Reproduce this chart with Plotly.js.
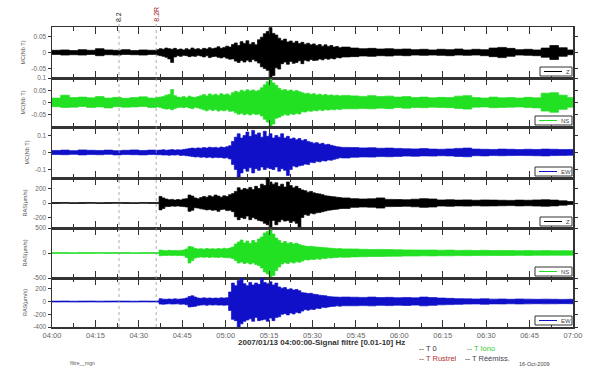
<!DOCTYPE html>
<html><head><meta charset="utf-8">
<script src="https://cdn.plot.ly/plotly-3.0.1.min.js"></script>
<style>html,body{margin:0;padding:0;background:#fff}#c{width:600px;height:378px}</style>
</head><body><div id="c"></div>
<script>
// time grid, minutes after 2007/01/13 04:00:00
const minutes = [0,3,6,9,12,15,18,21,24,27,30,33,36,
37,38,39,40,41,42,43,44,45,46,47,48,49,50,51,52,53,54,55,56,57,58,59,60,61,62,63,64,65,66,67,68,
69,70,71,72,73,74,75,76,77,78,79,80,81,82,83,84,85,86,87,88,89,90,91,92,93,94,95,96,97,98,99,100,
103,106,109,112,115,118,121,124,127,130,133,136,139,142,145,148,151,154,157,160,163,166,169,172,175,178,180];

const componentNames = ["Z","NS","EW","Z","NS","EW"];
const yTitles = ["MC(Nb T)","MC(Nb T)","MC(Nb T)","RAS(μm/s)","RAS(μm/s)","RAS(μm/s)"];
const tickVals = [[-0.05,0,0.05],[-0.05,0,0.05,0.1],[-0.1,0,0.1],[-200,0,200],[-500,0,500],[-400,-200,0,200]];
const tickTexts = [["-0.05","0","0.05"],["-0.05","0","0.05","0.1"],["-0.1","0","0.1"],["-200","0","200"],["-500","0","500"],["-400","-200","0","200"]];
const eventTimes = ["2007-01-13 04:23:10","2007-01-13 04:36:00"];
const eventLabels = ["8.2","8.2R"];
const timeLegend = ["T 0","T Iono","T Rustrel","T Réémiss."];

// envelopes (upper / lower)
const zMcUp = [.007,.008,.006,.009,.007,.012,.008,.007,.009,.006,.008,.007,.009,
.012,.010,.014,.012,.010,.013,.009,.011,.008,.012,.009,.014,.010,.012,.009,.013,.011,.015,.012,.014,.018,.013,.016,.020,.017,.025,.030,.022,
.034,.028,.037,.026,.031,.024,.040,.048,.059,.066,.078,.060,.055,.045,.038,.042,.033,.036,.030,.035,.028,.032,.026,.029,.024,.027,.022,.025,.020,.024,.019,.022,.017,.019,.015,.017,
.014,.012,.013,.011,.012,.010,.011,.009,.010,.008,.010,.009,.011,.008,.010,.009,.014,.016,.013,.009,.010,.008,.014,.022,.015,.008,.007];
const zMcLo = [-.006,-.008,-.007,-.008,-.006,-.010,-.007,-.008,-.006,-.007,-.008,-.006,-.008,
-.010,-.012,-.015,-.020,-.031,-.014,-.010,-.012,-.009,-.010,-.013,-.011,-.012,-.009,-.011,-.014,-.010,-.016,-.013,-.012,-.015,-.017,-.014,-.018,-.021,-.020,-.027,-.031,
-.025,-.030,-.024,-.029,-.022,-.027,-.033,-.045,-.050,-.056,-.080,-.072,-.048,-.052,-.035,-.030,-.037,-.028,-.034,-.031,-.026,-.035,-.024,-.027,-.022,-.025,-.024,-.020,-.023,-.019,-.021,-.018,-.020,-.016,-.017,-.014,
-.013,-.011,-.012,-.010,-.011,-.009,-.010,-.008,-.009,-.008,-.009,-.010,-.008,-.009,-.008,-.010,-.013,-.016,-.012,-.008,-.009,-.010,-.015,-.022,-.012,-.007,-.006];

const nsMcUp = [.018,.030,.020,.022,.019,.024,.018,.021,.017,.020,.023,.018,.021,
.022,.025,.030,.033,.053,.028,.022,.020,.024,.019,.026,.022,.020,.024,.028,.033,.027,.035,.030,.034,.029,.036,.031,.035,.030,.040,.046,.042,
.050,.045,.052,.047,.051,.046,.050,.060,.072,.085,.094,.080,.070,.058,.050,.053,.047,.051,.045,.049,.044,.040,.036,.038,.033,.036,.031,.034,.030,.033,.029,.031,.028,.030,.027,.029,
.027,.025,.028,.024,.026,.022,.024,.020,.022,.019,.021,.020,.026,.028,.020,.018,.022,.019,.020,.018,.021,.019,.038,.040,.030,.020,.018];
const nsMcLo = [-.017,-.020,-.019,-.016,-.020,-.018,-.022,-.017,-.019,-.018,-.016,-.020,-.018,
-.020,-.024,-.027,-.025,-.030,-.024,-.020,-.019,-.021,-.018,-.022,-.025,-.019,-.022,-.026,-.030,-.034,-.028,-.033,-.029,-.035,-.031,-.034,-.030,-.036,-.035,-.042,-.048,
-.044,-.050,-.046,-.051,-.045,-.049,-.047,-.055,-.068,-.080,-.100,-.088,-.064,-.060,-.054,-.048,-.052,-.046,-.049,-.044,-.047,-.038,-.039,-.034,-.036,-.032,-.034,-.030,-.033,-.029,-.031,-.028,-.030,-.027,-.029,-.026,
-.026,-.024,-.026,-.023,-.025,-.021,-.023,-.020,-.021,-.019,-.020,-.021,-.024,-.027,-.019,-.018,-.021,-.020,-.019,-.018,-.020,-.022,-.035,-.040,-.028,-.019,-.017];

const ewMcUp = [.012,.014,.011,.015,.013,.012,.014,.011,.013,.015,.012,.014,.013,
.014,.016,.013,.015,.017,.014,.016,.015,.018,.020,.023,.026,.024,.027,.025,.029,.026,.031,.028,.030,.027,.032,.029,.034,.040,.065,.090,.110,
.085,.100,.120,.095,.130,.105,.115,.090,.125,.095,.110,.085,.100,.090,.110,.085,.095,.080,.085,.075,.082,.070,.076,.065,.060,.055,.058,.050,.054,.046,.048,.042,.038,.034,.032,.030,
.029,.027,.028,.025,.026,.024,.022,.021,.023,.020,.019,.021,.024,.026,.020,.019,.018,.020,.019,.017,.019,.018,.020,.019,.017,.018,.016];
const ewMcLo = [-.012,-.013,-.011,-.014,-.012,-.013,-.011,-.014,-.012,-.013,-.014,-.012,-.013,
-.013,-.015,-.014,-.016,-.014,-.015,-.013,-.017,-.016,-.019,-.021,-.024,-.026,-.025,-.028,-.026,-.030,-.027,-.031,-.028,-.030,-.029,-.033,-.031,-.038,-.070,-.100,-.145,
-.120,-.095,-.110,-.090,-.120,-.095,-.105,-.085,-.100,-.090,-.095,-.100,-.085,-.110,-.095,-.105,-.135,-.100,-.080,-.085,-.078,-.075,-.068,-.070,-.058,-.060,-.052,-.055,-.048,-.050,-.044,-.045,-.040,-.036,-.031,-.032,
-.028,-.026,-.027,-.024,-.025,-.023,-.021,-.022,-.020,-.021,-.019,-.020,-.023,-.025,-.019,-.020,-.018,-.019,-.018,-.017,-.018,-.019,-.020,-.018,-.017,-.016,-.015];

const zRasUp = [6,7,5,6,7,5,6,7,6,5,7,6,8,
90,70,55,45,50,40,48,42,55,60,110,95,70,60,75,90,80,100,85,110,95,80,100,90,115,130,160,210,
180,200,190,215,185,230,200,260,240,345,290,260,280,230,260,220,290,240,210,230,200,180,170,150,160,140,130,125,115,100,95,90,85,80,75,70,
60,55,58,70,50,48,45,52,60,55,42,45,40,43,38,42,40,38,36,40,38,42,45,40,30,20,15];
const zRasLo = [-6,-5,-7,-6,-5,-7,-6,-5,-6,-7,-5,-6,-8,
-95,-75,-50,-48,-42,-45,-40,-46,-50,-55,-115,-100,-65,-70,-80,-85,-95,-90,-100,-95,-115,-90,-85,-105,-100,-120,-190,-230,
-200,-215,-180,-230,-200,-220,-240,-250,-280,-300,-345,-240,-300,-260,-230,-250,-240,-270,-250,-280,-345,-200,-160,-170,-140,-150,-135,-130,-120,-110,-100,-95,-90,-85,-78,-75,
-60,-55,-58,-70,-50,-48,-45,-52,-60,-55,-42,-45,-40,-43,-38,-42,-40,-38,-36,-40,-38,-42,-45,-40,-30,-20,-15];

const nsRasUp = [8,10,7,9,8,10,9,8,10,7,9,8,10,
60,50,45,55,48,50,45,52,60,80,130,120,90,80,85,75,90,80,85,78,90,82,95,85,100,120,180,220,
260,200,240,190,250,210,280,320,400,430,460,380,300,250,200,230,190,210,180,195,170,150,140,130,135,125,120,115,110,105,100,95,90,85,88,82,
80,75,70,72,68,65,62,60,58,60,55,58,52,55,50,54,48,52,50,47,50,46,48,45,47,44,42];
const nsRasLo = [-8,-9,-10,-8,-9,-7,-10,-8,-9,-10,-8,-9,-10,
-55,-48,-50,-45,-52,-46,-50,-48,-55,-90,-200,-150,-100,-85,-80,-85,-80,-90,-78,-85,-88,-80,-90,-95,-95,-110,-150,-200,
-180,-210,-190,-220,-200,-230,-250,-300,-380,-420,-500,-450,-350,-280,-220,-190,-210,-180,-200,-175,-185,-160,-135,-140,-125,-130,-115,-125,-105,-110,-95,-100,-88,-90,-82,-85,
-78,-74,-70,-70,-66,-64,-60,-60,-56,-58,-54,-56,-52,-53,-50,-52,-48,-50,-48,-46,-48,-45,-46,-44,-45,-43,-40];

const ewRasUp = [7,8,6,7,8,6,7,8,7,6,8,7,9,
45,38,35,40,36,42,38,40,45,55,80,90,70,55,50,58,52,56,50,55,52,58,54,60,150,290,250,330,
370,280,250,300,260,290,270,370,300,280,310,260,290,230,210,220,190,200,180,190,170,140,135,125,130,115,110,100,95,90,80,75,72,70,68,70,
68,65,70,62,66,60,64,58,70,62,55,50,45,42,40,44,38,40,36,40,38,35,38,36,34,36,32];
const ewRasLo = [-7,-6,-8,-7,-6,-8,-7,-6,-7,-8,-6,-7,-9,
-40,-42,-38,-35,-40,-38,-36,-42,-40,-50,-85,-80,-75,-60,-55,-52,-58,-50,-55,-52,-56,-54,-58,-55,-140,-280,-300,-400,
-350,-310,-290,-270,-310,-250,-300,-290,-280,-310,-260,-300,-250,-240,-200,-190,-210,-180,-195,-170,-180,-150,-125,-135,-120,-125,-105,-110,-90,-95,-85,-78,-75,-68,-72,-66,
-66,-64,-68,-60,-64,-58,-62,-56,-68,-60,-52,-48,-44,-40,-38,-42,-37,-38,-35,-38,-36,-34,-36,-35,-33,-34,-30];

const uppers = [zMcUp, nsMcUp, ewMcUp, zRasUp, nsRasUp, ewRasUp];
const lowers = [zMcLo, nsMcLo, ewMcLo, zRasLo, nsRasLo, ewRasLo];
const colors = ["#000000","#22e022","#1010c8","#000000","#22e022","#1010c8"];
const yRanges = [[-0.08,0.08],[-0.1,0.1],[-0.15,0.15],[-345,345],[-500,500],[-400,370]];

function toDate(m){
  const h = 4 + Math.floor(m/60), mm = m % 60;
  return "2007-01-13 " + String(h).padStart(2,"0") + ":" + String(mm).padStart(2,"0") + ":00";
}
const xs = minutes.map(toDate);

// pixel helpers for layout (plot area 52..573 x 27..327)
const L = 52, R = 573, T = 27, B = 327;
const px = x => (x - L) / (R - L);
const py = y => (B - y) / (B - T);
const bounds = [27,78,127,178,228,278,327];

const data = [];
const layout = {
  width: 600, height: 378,
  margin: {l: L, r: 600 - R, t: T, b: 378 - B},
  paper_bgcolor: "#fff", plot_bgcolor: "#fff",
  font: {family: "Liberation Sans, Arial, sans-serif", size: 7, color: "#555"},
  showlegend: false,
  shapes: [], annotations: []
};

for (let i = 0; i < 6; i++) {
  const n = i + 1;
  const xa = "x" + n, ya = "y" + n;
  data.push({x: xs, y: uppers[i], xaxis: xa, yaxis: ya, type: "scatter", mode: "lines",
    line: {color: colors[i], width: 0.7, shape: "hv"}, name: componentNames[i], hoverinfo: "skip"});
  data.push({x: xs, y: lowers[i], xaxis: xa, yaxis: ya, type: "scatter", mode: "lines",
    line: {color: colors[i], width: 0.7, shape: "hv"}, fill: "tonexty", fillcolor: colors[i],
    hoverinfo: "skip"});
  const dom = [py(bounds[i+1]), py(bounds[i])];
  layout["xaxis" + n] = {
    type: "date", anchor: ya, range: ["2007-01-13 04:00:00","2007-01-13 07:00:00"],
    matches: n === 6 ? undefined : "x6",
    tick0: "2007-01-13 04:00:00", dtick: 900000, tickformat: "%H:%M",
    ticks: "inside", ticklen: 7, tickwidth: 1, tickcolor: "#333",
    minor: {dtick: 450000, ticks: "inside", ticklen: 4, tickcolor: "#333", showgrid: false},
    showline: true, linecolor: "#333", linewidth: 1.5, mirror: "ticks",
    showgrid: false, zeroline: false, showticklabels: n === 6,
    ticklabelstandoff: 0,
    tickfont: {size: 7.5, color: "#666"}
  };
  layout["yaxis" + n] = {
    domain: dom, anchor: xa, range: yRanges[i],
    tickmode: "array", tickvals: tickVals[i], ticktext: tickTexts[i],
    ticks: "outside", ticklen: 3, tickcolor: "#333",
    showline: true, linecolor: "#333", linewidth: 1.5, mirror: "ticks",
    showgrid: false, zeroline: false,
    tickfont: {size: 6.5, color: "#666"},
    title: {text: yTitles[i], font: {size: 5.5, color: "#555"}, standoff: 5}
  };
  // per-panel legend box drawn from the component name
  const name = componentNames[i];
  const bb = bounds[i+1] - 2, bt = bb - 9;
  const bl = name.length > 1 ? 535 : 540;
  layout.shapes.push({type: "rect", xref: "paper", yref: "paper", x0: px(bl), x1: px(572), y0: py(bb), y1: py(bt),
    line: {color: "#333", width: 1}, fillcolor: "#fff", layer: "above"});
  layout.shapes.push({type: "line", xref: "paper", yref: "paper", x0: px(bl + 4), x1: px(bl + 22), y0: py(bb - 4.5), y1: py(bb - 4.5),
    line: {color: colors[i], width: 1}, layer: "above"});
  layout.annotations.push({xref: "paper", yref: "paper", x: px(bl + 24), y: py(bb - 4.5), xanchor: "left", yanchor: "middle",
    text: name, showarrow: false, font: {size: 6, color: "#444"}});
}

// event markers
const evColors = ["#222","#a02020"];
eventTimes.forEach((t, k) => {
  layout.shapes.push({type: "line", xref: "x6", yref: "paper", x0: t, x1: t, y0: 0, y1: py(20),
    line: {color: "#999", width: 0.8, dash: "dot"}});
  layout.annotations.push({xref: "x6", yref: "paper", x: t, y: py(24), yanchor: "bottom",
    text: eventLabels[k], textangle: -90, showarrow: false,
    font: {size: 7, color: evColors[k]}});
});

// bottom texts
layout.annotations.push({xref: "paper", yref: "paper", x: px(321), y: py(343), yanchor: "middle",
  text: "<b>2007/01/13 04:00:00-Signal filtré [0.01-10] Hz</b>", showarrow: false,
  font: {size: 8, color: "#333"}});
const legPos = [[417,348,"#333","#333"],[465,348,"#2a2","#3c3"],[417,358,"#8a1a1a","#b03030"],[463,358,"#223","#445"]];
timeLegend.forEach((s, k) => {
  const p = legPos[k];
  layout.annotations.push({xref: "paper", yref: "paper", x: px(p[0]), y: py(p[1]), xanchor: "left", yanchor: "middle",
    text: '<span style="color:' + p[2] + '">--</span> ' + s, showarrow: false,
    font: {size: 7.5, color: p[3]}});
});
layout.annotations.push({xref: "paper", yref: "paper", x: px(517), y: py(364), xanchor: "left", yanchor: "middle",
  text: "16-Oct-2009", showarrow: false, font: {size: 5.5, color: "#444"}});
layout.annotations.push({xref: "paper", yref: "paper", x: px(68), y: py(363), xanchor: "left", yanchor: "middle",
  text: "filtre__mgn", showarrow: false, font: {size: 5, color: "#555"}});

Plotly.newPlot("c", data, layout, {staticPlot: true, displayModeBar: false});
</script></body></html>
